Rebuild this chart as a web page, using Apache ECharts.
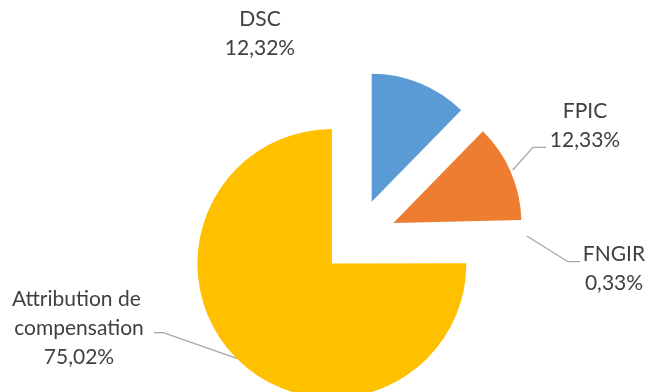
<!DOCTYPE html>
<html>
<head>
<meta charset="utf-8">
<script src="https://cdn.jsdelivr.net/npm/echarts@6/dist/echarts.min.js"></script>
<style>
  html, body { margin: 0; padding: 0; background: #ffffff; }
  #chart { width: 645px; height: 392px; }
</style>
</head>
<body>
<div id="chart"></div>
<script>
// Répartition des ressources (parts en %)
const categories = ['DSC', 'FPIC', 'FNGIR', 'Attribution de compensation'];
const shares = [12.32, 12.33, 0.33, 75.02];
const colors = ['#5B9BD5', '#ED7D31', '#FFFFFF', '#FFC000'];

// The large slice is drawn by its own ring so it can keep a slightly larger radius
const bigIndex = 3;
const pieCenter = [356.5, 238.9];

// Label placement: text centre and leader line (start on the arc, elbow, end)
const labelPlacement = [
  { x: 260, y: 34, line: null },
  { x: 585, y: 126, line: [[512.7, 170], [533, 147.3], [546, 147.3]] },
  { x: 614, y: 269, line: [[526.7, 236], [568, 261.7], [580, 261.7]] },
  { x: 79, y: 328, line: [[236.7, 358.3], [163.3, 332.7], [154, 332.7]] }
];

const fmt = v => v.toFixed(2).replace('.', ',') + '%';

function sliceData(visible) {
  return categories.map((name, i) => ({
    name: name,
    value: shares[i],
    selected: true,
    itemStyle: { color: visible(i) ? colors[i] : 'rgba(0,0,0,0)' }
  }));
}

function labelData() {
  return categories.map((name, i) => ({
    name: name,
    value: shares[i],
    itemStyle: { color: 'rgba(0,0,0,0)' },
    label: i === bigIndex ? { width: 150, overflow: 'break' } : {},
    labelLine: { show: labelPlacement[i].line !== null }
  }));
}

const base = {
  type: 'pie',
  center: pieCenter,
  startAngle: 90,
  clockwise: true,
  avoidLabelOverlap: false,
  animation: false,
  emphasis: { disabled: true },
  itemStyle: { borderWidth: 0 },
  select: { itemStyle: { borderWidth: 0 } }
};

const chart = echarts.init(document.getElementById('chart'), null, { renderer: 'canvas' });
chart.setOption({
  backgroundColor: '#ffffff',
  series: [
    Object.assign({}, base, {
      name: 'grand',
      radius: 134.5,
      selectedMode: 'multiple',
      selectedOffset: 34.8,
      label: { show: false },
      labelLine: { show: false },
      data: sliceData(i => i === bigIndex)
    }),
    Object.assign({}, base, {
      name: 'petits',
      radius: 128,
      selectedMode: 'multiple',
      selectedOffset: 40.2,
      label: { show: false },
      labelLine: { show: false },
      data: sliceData(i => i !== bigIndex)
    }),
    Object.assign({}, base, {
      name: 'étiquettes',
      radius: 128,
      silent: true,
      selectedMode: false,
      label: {
        show: true,
        position: 'outside',
        formatter: p => p.name + '\n' + fmt(p.value),
        color: '#404040',
        fontFamily: 'Lato',
        fontSize: 21,
        lineHeight: 29,
        align: 'center'
      },
      labelLine: { lineStyle: { color: '#A6A6A6', width: 1.3 }, smooth: false },
      labelLayout: params => {
        const p = labelPlacement[params.dataIndex];
        const out = { x: p.x, y: p.y, align: 'center', verticalAlign: 'middle' };
        if (p.line) out.labelLinePoints = p.line;
        return out;
      },
      data: labelData()
    })
  ]
});
</script>
</body>
</html>
